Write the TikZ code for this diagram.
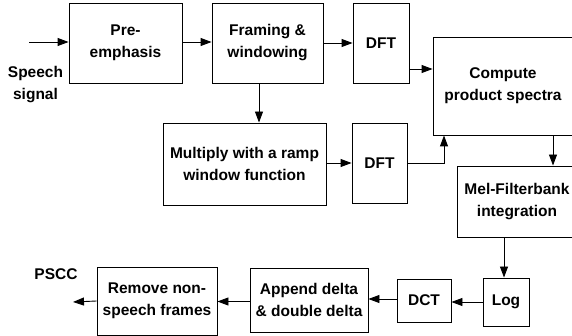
\documentclass[tikz,border=0pt]{standalone}
\usepackage{fontspec}
\setmainfont{Liberation Sans}
\usetikzlibrary{arrows.meta,calc}
\begin{document}
\begin{tikzpicture}[x=1pt,y=-1pt,
  every node/.style={font=\fontsize{15.5}{22}\selectfont\bfseries, align=center, inner sep=0pt},
  blk/.style={draw, line width=0.9pt, rectangle},
  arr/.style={line width=0.9pt, -{Triangle[length=11pt,width=8pt]}}]
\useasboundingbox (0,0) rectangle (572,336);
\clip (0,0) rectangle (572,336);
\node[blk, minimum width=113pt, minimum height=80pt] (pre) at (125.5,43) {Pre-\\emphasis};
\node[blk, minimum width=111pt, minimum height=80pt] (frame) at (267.5,43) {Framing \&\\windowing};
\node[blk, minimum width=56pt, minimum height=80pt] (dfta) at (381,43) {DFT};
\node[blk, minimum width=142pt, minimum height=98pt] (comp) at (504,86) {};
\node at (503,86) (comptxt) {Compute\\product spectra};
\node[blk, minimum width=163pt, minimum height=82pt] (mult) at (244.5,164) {Multiply with a ramp\\window function};
\node[blk, minimum width=55pt, minimum height=80pt] (dftb) at (379.5,163) {DFT};
\node[blk, minimum width=120pt, minimum height=71pt] (mel) at (517,201.5) {Mel-Filterbank\\integration};
\node[blk, minimum width=46pt, minimum height=48pt] (log) at (506,302) {Log};
\node[blk, minimum width=54pt, minimum height=43pt] (dct) at (424,300.5) {DCT};
\node[blk, minimum width=118pt, minimum height=64pt] (app) at (309,300) {Append delta\\\& double delta};
\node[blk, minimum width=120pt, minimum height=68pt] (rem) at (157,301) {Remove non-\\speech frames};
\node (speech) at (35.5,85) {Speech\\signal};
\node (pscc) at (56,274.5) {PSCC};
\coordinate (in) at (29,42);
\coordinate (out) at (73,302);
\draw[arr] (in) -- (in -| pre.west);
\draw[arr] ([yshift=1pt]pre.east) -- ([yshift=1pt]pre.east -| frame.west);
\draw[arr] (frame.east) -- (frame.east -| dfta.west);
\draw[arr] ([yshift=-26pt]dfta.east) -- ([yshift=-26pt]dfta.east -| comp.west);
\draw[arr] ([xshift=-8.5pt]frame.south) -- ([xshift=-8.5pt]frame.south |- mult.north);
\draw[arr] ([yshift=1pt]mult.east) -- ([yshift=1pt]mult.east -| dftb.west);
\draw[arr] (dftb.east) -| ([xshift=-60pt]comp.south);
\draw[arr] ([xshift=49pt]comp.south) -- ([xshift=49pt]comp.south |- mel.north);
\draw[arr] ([xshift=-2pt]log.north |- mel.south) -- ([xshift=-2pt]log.north);
\draw[arr] (log.west) -- (log.west -| dct.east);
\draw[arr] ([yshift=1.5pt]dct.west) -- ([yshift=1.5pt]dct.west -| app.east);
\draw[arr] ([yshift=-1.5pt]app.west) -- ([yshift=-1.5pt]app.west -| rem.east);
\draw[arr] (rem.west) -- (out);
\end{tikzpicture}
\end{document}
